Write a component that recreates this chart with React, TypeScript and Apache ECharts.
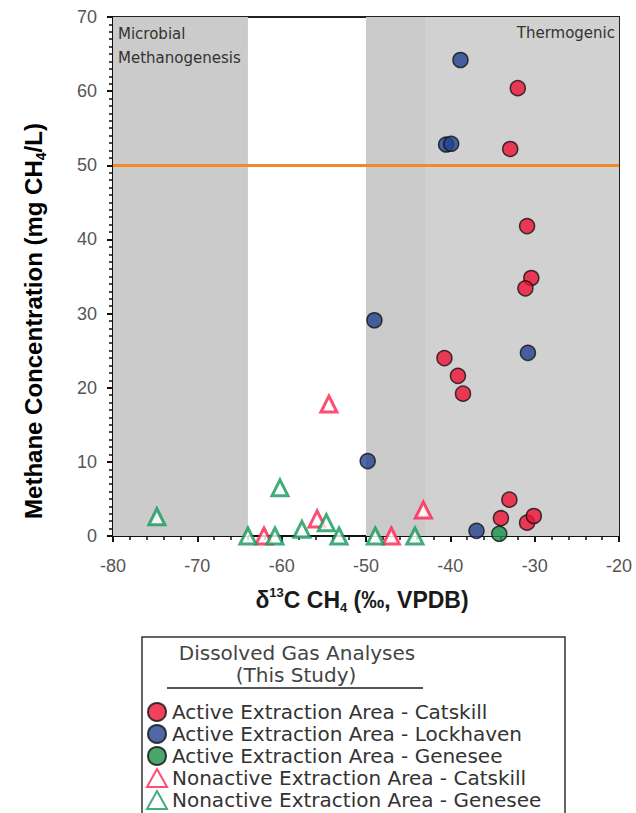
import React, { useEffect, useRef } from 'react';
import * as echarts from 'echarts';

// ---- data (δ13C CH4 ‰, methane mg/L) ----
const activeCatskill: [number, number][] = [
  [-32.0, 60.4], [-32.9, 52.2], [-30.9, 41.8], [-30.4, 34.8], [-31.1, 33.4],
  [-40.7, 24.0], [-39.1, 21.6], [-38.5, 19.2], [-33.0, 4.9], [-34.0, 2.4],
  [-30.9, 1.8], [-30.1, 2.7],
];
const activeLockhaven: [number, number][] = [
  [-38.8, 64.2], [-40.5, 52.8], [-39.9, 52.9], [-49.0, 29.1], [-30.8, 24.7],
  [-49.8, 10.1], [-36.9, 0.7],
];
const activeGenesee: [number, number][] = [[-34.2, 0.3]];
const nonactiveCatskill: [number, number][] = [
  [-54.4, 17.8], [-55.8, 2.3], [-43.2, 3.5], [-47.0, 0], [-62.1, 0],
];
const nonactiveGenesee: [number, number][] = [
  [-74.8, 2.6], [-60.2, 6.5], [-64.0, 0], [-60.8, 0], [-57.6, 0.9],
  [-54.7, 1.8], [-53.2, 0], [-48.9, 0], [-44.2, 0],
];

const seriesNames = [
  'Active Extraction Area - Catskill',
  'Active Extraction Area - Lockhaven',
  'Active Extraction Area - Genesee',
  'Nonactive Extraction Area - Catskill',
  'Nonactive Extraction Area - Genesee',
];

// Regions
const microbialRange = [-80, -64];
const thermoRange1 = [-50, -43];
const thermoRange2 = [-43, -20];
const drinkingLimit = 50;

const xRange = { min: -80, max: -20, interval: 10 };
const yRange = { min: 0, max: 70, interval: 10 };

export default function App() {
  const ref = useRef<HTMLDivElement>(null);

  useEffect(() => {
    if (!ref.current) return;
    const chart = echarts.init(ref.current, undefined, { renderer: 'svg' });
    const tickFont = { fontFamily: 'Liberation Sans, Arial', fontSize: 18, color: '#555' };
    const regionFont = { fontFamily: 'DejaVu Sans', fontSize: 15, color: '#333' };
    const circleStyle = (c: string) => ({ color: c, borderColor: '#111', borderWidth: 1.5 });
    const triStyle = (c: string) => ({ color: '#ffffff', borderColor: c, borderWidth: 3 });
    const titleFont = { fontFamily: 'Liberation Sans, Arial', fontWeight: 'bold', color: '#1a1a1a' };

    chart.setOption({
      animation: false,
      backgroundColor: '#ffffff',
      grid: {
        left: 113, right: 17, top: 17, bottom: 277,
        show: true, borderColor: '#222', borderWidth: 2, backgroundColor: '#ffffff',
      },
      xAxis: {
        type: 'value',
        min: xRange.min, max: xRange.max, interval: xRange.interval,
        name: '{a|δ}{sup|13}{a|C CH}{sub|4}{a| (‰, VPDB)}',
        nameLocation: 'middle',
        nameGap: 50,
        nameTextStyle: {
          padding: [0, 8, 0, 0],
          rich: {
            a: { ...titleFont, fontSize: 23, lineHeight: 28 },
            sup: { ...titleFont, fontSize: 13, lineHeight: 14, verticalAlign: 'top' },
            sub: { ...titleFont, fontSize: 13, lineHeight: 14, verticalAlign: 'bottom' },
          },
        },
        axisLine: { show: true, onZero: false, lineStyle: { color: '#111', width: 2 } },
        axisTick: { show: true, inside: false, length: 6, lineStyle: { color: '#111', width: 2 } },
        minorTick: { show: true, splitNumber: 5, length: 4, lineStyle: { color: '#111', width: 1.5 } },
        axisLabel: { ...tickFont, margin: 21 },
        splitLine: { show: false },
        minorSplitLine: { show: false },
      },
      yAxis: {
        type: 'value',
        min: yRange.min, max: yRange.max, interval: yRange.interval,
        axisLine: { show: true, onZero: false, lineStyle: { color: '#111', width: 2 } },
        axisTick: { show: true, inside: false, length: 6, lineStyle: { color: '#111', width: 2 } },
        minorTick: { show: true, splitNumber: 10, length: 4, lineStyle: { color: '#111', width: 1.5 } },
        axisLabel: { ...tickFont, margin: 16 },
        splitLine: { show: false },
        minorSplitLine: { show: false },
      },
      legend: {
        orient: 'vertical',
        left: 146,
        top: 702,
        height: 200,
        padding: 0,
        itemWidth: 20,
        itemHeight: 18,
        itemGap: 2,
        selectedMode: false,
        data: seriesNames,
        textStyle: { fontFamily: 'DejaVu Sans', fontSize: 20, color: '#333', lineHeight: 18 },
      },
      graphic: [
        {
          type: 'text',
          x: 33, y: 321,
          rotation: Math.PI / 2,
          style: {
            text: '{a|Methane Concentration (mg CH}{s|4}{a|/L)}',
            textAlign: 'center',
            textVerticalAlign: 'middle',
            rich: {
              a: { ...titleFont, fontSize: 24, lineHeight: 30 },
              s: { ...titleFont, fontSize: 14, lineHeight: 16, verticalAlign: 'bottom' },
            },
          },
        },
        {
          type: 'rect',
          shape: { x: 142, y: 637, width: 423, height: 200 },
          style: { fill: 'none', stroke: '#333', lineWidth: 1.5 },
          silent: true,
        },
        {
          type: 'text',
          x: 297, y: 653,
          style: {
            text: 'Dissolved Gas Analyses',
            fontFamily: 'DejaVu Sans', fontSize: 20, fill: '#444',
            textAlign: 'center', textVerticalAlign: 'middle',
          },
        },
        {
          type: 'text',
          x: 296, y: 675,
          style: {
            text: '(This Study)',
            fontFamily: 'DejaVu Sans', fontSize: 20, fill: '#444',
            textAlign: 'center', textVerticalAlign: 'middle',
          },
        },
        {
          type: 'line',
          shape: { x1: 167, y1: 688, x2: 423, y2: 688 },
          style: { stroke: '#555', lineWidth: 2 },
        },
      ],
      series: [
        {
          name: seriesNames[0],
          type: 'scatter',
          symbol: 'circle',
          symbolSize: 15,
          itemStyle: circleStyle('#ee1133'),
          data: activeCatskill,
          z: 5,
          markArea: {
            silent: true,
            data: [
              [
                {
                  xAxis: microbialRange[0],
                  itemStyle: { color: '#cbcbcb' },
                  label: {
                    show: true, position: 'insideTopLeft', distance: 5,
                    formatter: 'Microbial\nMethanogenesis', lineHeight: 24, ...regionFont,
                  },
                },
                { xAxis: microbialRange[1] },
              ],
              [
                { xAxis: thermoRange1[0], itemStyle: { color: '#cacaca' }, label: { show: false } },
                { xAxis: thermoRange1[1] },
              ],
              [
                {
                  xAxis: thermoRange2[0],
                  itemStyle: { color: '#d1d1d1' },
                  label: {
                    show: true, position: 'insideTopRight', distance: 4,
                    formatter: 'Thermogenic', lineHeight: 24, ...regionFont,
                  },
                },
                { xAxis: thermoRange2[1] },
              ],
            ],
          },
          markLine: {
            silent: true,
            symbol: 'none',
            label: { show: false },
            lineStyle: { color: '#f08a24', width: 3, type: 'solid' },
            data: [{ yAxis: drinkingLimit }],
          },
        },
        {
          name: seriesNames[1],
          type: 'scatter',
          symbol: 'circle',
          symbolSize: 15,
          itemStyle: circleStyle('#23428f'),
          data: activeLockhaven,
          z: 5,
        },
        {
          name: seriesNames[2],
          type: 'scatter',
          symbol: 'circle',
          symbolSize: 15,
          itemStyle: circleStyle('#1a9148'),
          data: activeGenesee,
          z: 5,
        },
        {
          name: seriesNames[3],
          type: 'scatter',
          symbol: 'triangle',
          symbolSize: 16,
          itemStyle: triStyle('#ff1f4f'),
          data: nonactiveCatskill,
          z: 4,
        },
        {
          name: seriesNames[4],
          type: 'scatter',
          symbol: 'triangle',
          symbolSize: 16,
          itemStyle: triStyle('#14975a'),
          data: nonactiveGenesee,
          z: 4,
        },
      ],
    });
    return () => chart.dispose();
  }, []);

  return (
    <div
      ref={ref}
      style={{ position: 'absolute', left: 0, top: 0, width: 636, height: 813 }}
    />
  );
}
